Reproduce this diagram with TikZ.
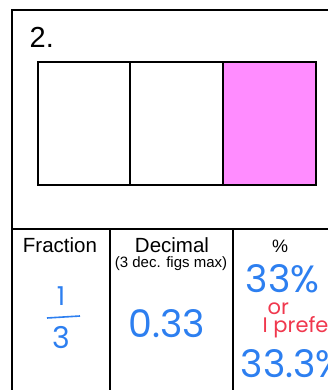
\documentclass[tikz,border=0pt]{standalone}
\usepackage{fontspec}
\setmainfont{Liberation Sans}
\newfontfamily\handfont{Poppins}
\usetikzlibrary{positioning}
\definecolor{barpink}{HTML}{FF8CFF}
\definecolor{penblue}{HTML}{2D7FF0}
\definecolor{penred}{HTML}{F0384E}

\begin{document}
\begin{tikzpicture}[x=1pt, y=-1pt,
    style={line width=1.4pt},
    head/.style={font=\fontsize{20.5}{20.5}\selectfont, inner sep=0pt, anchor=base},
    hand/.style={text=penblue, font=\handfont\fontsize{38}{38}\selectfont, inner sep=0pt, anchor=base},
    note/.style={text=penred, font=\handfont\fontsize{21}{21}\selectfont, inner sep=0pt, anchor=base west}
]
\useasboundingbox (0,0) rectangle (328,390);
\clip (0,0) rectangle (328,390);
  % Frame and number
  \draw[line width=2pt] (12,400) -- (12,10) -- (340,10);
  \node[anchor=base west, font=\fontsize{29}{29}\selectfont, inner sep=0pt] (num) at (29,48) {2.};

  % Bar cut into thirds
  \fill[barpink] (223,62) rectangle (316,185);
  \draw[line width=2pt] (38,62) rectangle (316,185);
  \draw[line width=2pt] (130,62) -- (130,185) (223,62) -- (223,185);

  % Table
  \draw (12,229) -- (340,229) (110,229) -- (110,400) (233,229) -- (233,400);
  \node[head] (frac) at (60,252) {Fraction};
  \node[head] (dec) at (172,252) {Decimal};
  \node[head, font=\fontsize{15}{15}\selectfont] (decnote) at (171,267) {(3 dec. figs max)};
  \node[head, font=\fontsize{18}{18}\selectfont] (pct) at (280,252) {\%};

  % Answers
  \node[hand, font=\handfont\fontsize{26}{26}\selectfont] (one) at (61,305) {1};
  \draw[penblue, line width=1.6pt] (47,318) -- (80,316);
  \node[hand, font=\handfont\fontsize{30}{30}\selectfont] (three) at (61,348) {3};
  \node[hand] (point) at (167,337) {0.33};
  \node[hand, anchor=base west] (pctA) at (245,292) {33\%};
  \node[note] (or) at (267,314) {or};
  \node[note] (pref) at (262,332) {I prefer};
  \node[hand, anchor=base west] (pctB) at (240,377) {33.3\%};
\end{tikzpicture}
\end{document}
